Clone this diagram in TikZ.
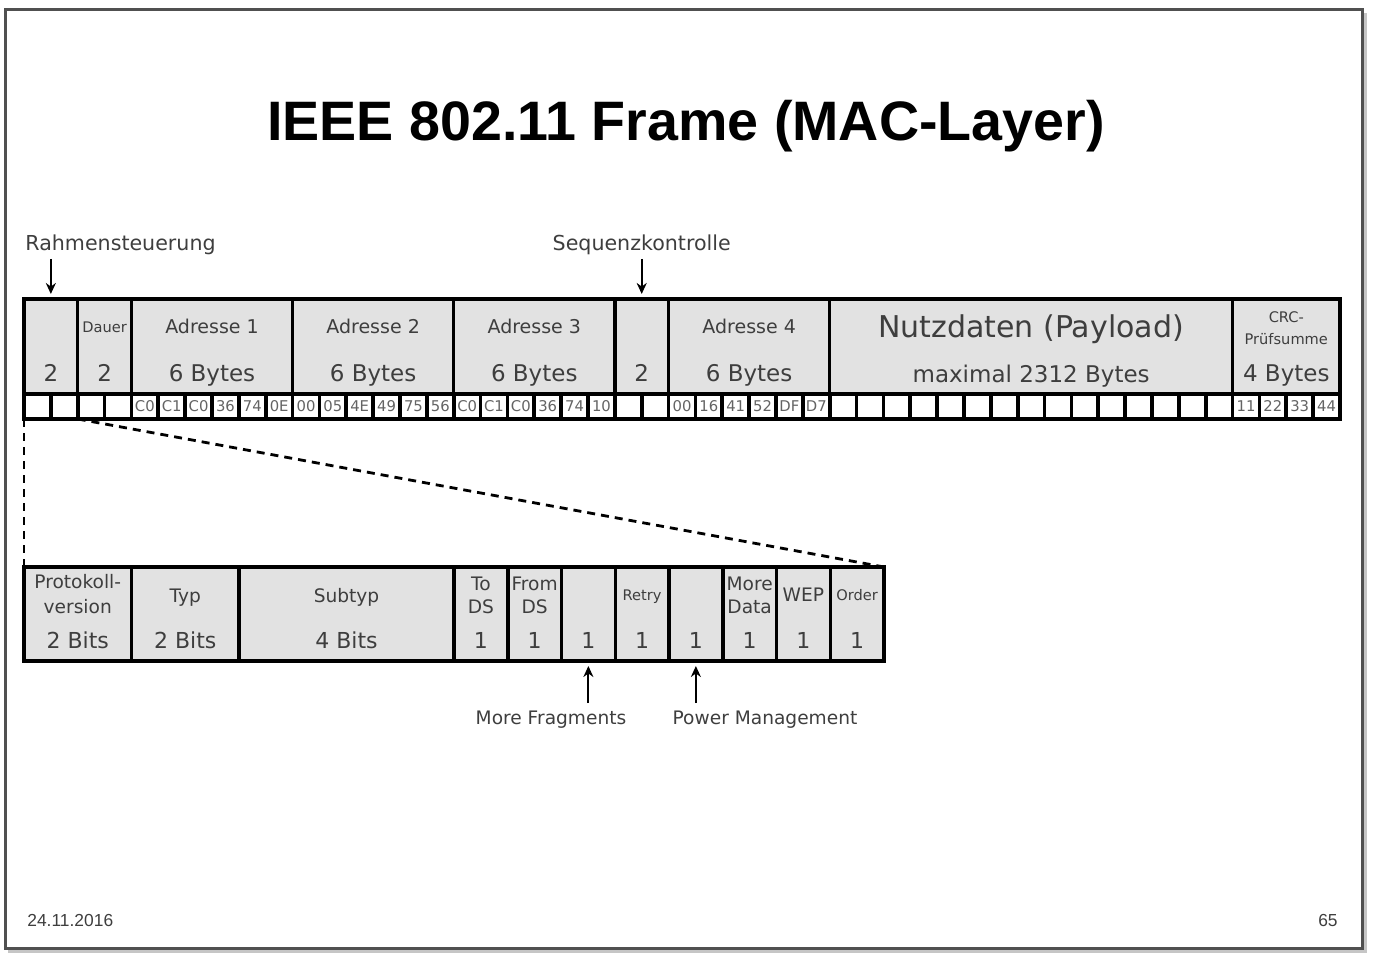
\documentclass[tikz,border=0pt]{standalone}
\usepackage{fontspec}
\setmainfont{DejaVu Sans}
\newfontfamily\headfont{Liberation Sans}
\usetikzlibrary{fit,arrows.meta,calc}
\definecolor{boxfill}{RGB}{226,226,226}
\definecolor{ink}{RGB}{62,62,62}
\definecolor{hexink}{RGB}{100,100,100}
\definecolor{framegray}{RGB}{80,80,80}
\newcommand\setfs[1]{\fontsize{#1pt}{#1pt}\selectfont}
\begin{document}
\begin{tikzpicture}[x=0.5pt,y=-0.5pt,
  field/.style={draw=black, line width=1.75pt, fill=boxfill, inner sep=0pt, outer sep=0pt},
  cell/.style={draw=black, line width=1.9pt, fill=white, inner sep=0pt, outer sep=0pt},
  hexlbl/.style={text=hexink, inner sep=0pt, font=\setfs{7.4}},
  fname/.style={anchor=base, text=ink, inner sep=0pt, font=\setfs{9.5}},
  fval/.style={anchor=base, text=ink, inner sep=0pt, font=\setfs{11.5}},
  tiny/.style={anchor=base, text=ink, inner sep=0pt, font=\setfs{7.3}},
  bname/.style={anchor=base, text=ink, inner sep=0pt, font=\setfs{9.3}},
  bval/.style={anchor=base, text=ink, inner sep=0pt, font=\setfs{11}},
  note/.style={anchor=base, text=ink, inner sep=0pt, font=\setfs{10.3}},
  pointer/.style={line width=1pt, shorten >=2.5pt, -{Stealth[length=5.5pt,width=5pt]}},
  zoomline/.style={line width=1.4pt, dash pattern=on 4pt off 3pt},
]
\useasboundingbox (0,0) rectangle (1374,962);

% slide frame with a soft shadow
\draw[gray!45, line width=1.5pt] (8,951) -- (1365,951) -- (1365,13);
\draw[framegray, line width=1.5pt] (5,10) rectangle (1362,948);

% title and footer
\node[anchor=base, inner sep=0pt, font=\headfont\bfseries\setfs{27.8}] (title) at (686,141) {IEEE 802.11 Frame (MAC-Layer)};
\node[anchor=base west, inner sep=0pt, text=ink, font=\headfont\setfs{8.7}] (date) at (27,926) {24.11.2016};
\node[anchor=base east, inner sep=0pt, text=ink, font=\headfont\setfs{8.7}] (page) at (1338,926) {65};

% ---- MAC frame: fields (one byte cell = 1316/49 px) ----
\def\cw{26.857}
\def\xo{24}
\foreach \n/\a/\b in {fc/0/2, dur/2/4, ad1/4/10, ad2/10/16, ad3/16/22, seq/22/24, ad4/24/30, body/30/45, fcs/45/49}
  \node[field, fit={(\xo+\a*\cw,299) (\xo+\b*\cw,394)}] (\n) {};
% byte cells
\foreach \i in {0,...,48}
  \node[cell, fit={(\xo+\i*\cw,394) (\xo+\i*\cw+\cw,419)}] (b\i) {};
\foreach \i/\t in {4/C0,5/C1,6/C0,7/36,8/74,9/0E,
                   10/00,11/05,12/4E,13/49,14/75,15/56,
                   16/C0,17/C1,18/C0,19/36,20/74,21/10,
                   24/00,25/16,26/41,27/52,28/DF,29/D7,
                   45/11,46/22,47/33,48/44}
  \node[hexlbl] (h\i) at (b\i) {\t};

% field texts
\coordinate (yname) at (0,334);
\coordinate (yval) at (0,381);
\node[fval] (fcv) at (fc |- yval) {2};
\node[tiny] (durn) at (dur |- 0,333) {Dauer};
\node[fval] (durv) at (dur |- yval) {2};
\foreach \n/\k in {ad1/1, ad2/2, ad3/3, ad4/4}{
  \node[fname] (\n n) at (\n |- yname) {Adresse \k};
  \node[fval] (\n v) at (\n |- yval) {6 Bytes};
}
\node[fval] (seqv) at (seq |- yval) {2};
\node[anchor=base, text=ink, inner sep=0pt, font=\setfs{15}] (bodyn) at (body |- 0,337) {Nutzdaten (Payload)};
\node[fval] (bodyv) at (body |- 0,382) {maximal 2312 Bytes};
\node[tiny] (fcsa) at (fcs |- 0,322) {CRC-};
\node[tiny] (fcsb) at (fcs |- 0,344) {Prüfsumme};
\node[fval] (fcsv) at (fcs |- yval) {4 Bytes};

% pointers above the frame
\node[note, anchor=base west] (rslbl) at (25,251) {Rahmensteuerung};
\coordinate (rstail) at (fc.north |- 0,259);
\draw[pointer] (rstail) -- (fc.north);
\node[note] (sqlbl) at (seq |- 0,251) {Sequenzkontrolle};
\coordinate (sqtail) at (seq.north |- 0,259);
\draw[pointer] (sqtail) -- (seq.north);

% ---- frame control field, bit by bit ----
\def\bu{53.75}
\foreach \n/\a/\b in {pv/0/2, typ/2/4, sub/4/8, tods/8/9, fromds/9/10, mfr/10/11, retry/11/12, pwr/12/13, mdata/13/14, wep/14/15, ord/15/16}
  \node[field, fit={(\xo+\a*\bu,567) (\xo+\b*\bu,661)}] (\n) {};

\coordinate (ybv) at (0,648);
\node[bname] (pvn1) at (pv |- 0,588) {Protokoll-};
\node[bname] (pvn2) at (pv |- 0,613) {version};
\node[bval] (pvv) at (pv |- ybv) {2 Bits};
\node[bname] (typn) at (typ |- 0,602) {Typ};
\node[bval] (typv) at (typ |- ybv) {2 Bits};
\node[bname] (subn) at (sub |- 0,602) {Subtyp};
\node[bval] (subv) at (sub |- ybv) {4 Bits};
\node[bname] (todsn1) at (tods |- 0,590) {To};
\node[bname] (todsn2) at (tods |- 0,613) {DS};
\node[bname] (fromdsn1) at (fromds |- 0,590) {From};
\node[bname] (fromdsn2) at (fromds |- 0,613) {DS};
\node[tiny] (retryn) at (retry |- 0,600) {Retry};
\node[bname] (mdatan1) at (mdata |- 0,590) {More};
\node[bname] (mdatan2) at (mdata |- 0,613) {Data};
\node[bname] (wepn) at (wep |- 0,601) {WEP};
\node[tiny] (ordn) at (ord |- 0,600) {Order};
\foreach \n in {tods, fromds, mfr, retry, pwr, mdata, wep, ord}
  \node[bval] (\n v) at (\n |- ybv) {1};

% pointers below the bit fields
\node[bname] (mflbl) at (551,724) {More Fragments};
\coordinate (mftail) at ($(mfr.south)+(0,42)$);
\draw[pointer] (mftail) -- (mfr.south);
\node[bname] (pmlbl) at (765,724) {Power Management};
\coordinate (pmtail) at ($(pwr.south)+(0,42)$);
\draw[pointer] (pmtail) -- (pwr.south);

% zoom lines from the first field down to its bit layout
\draw[zoomline] (b0.south west) -- (pv.north west);
\draw[zoomline] (b1.south east) -- (ord.north east);
\end{tikzpicture}
\end{document}
